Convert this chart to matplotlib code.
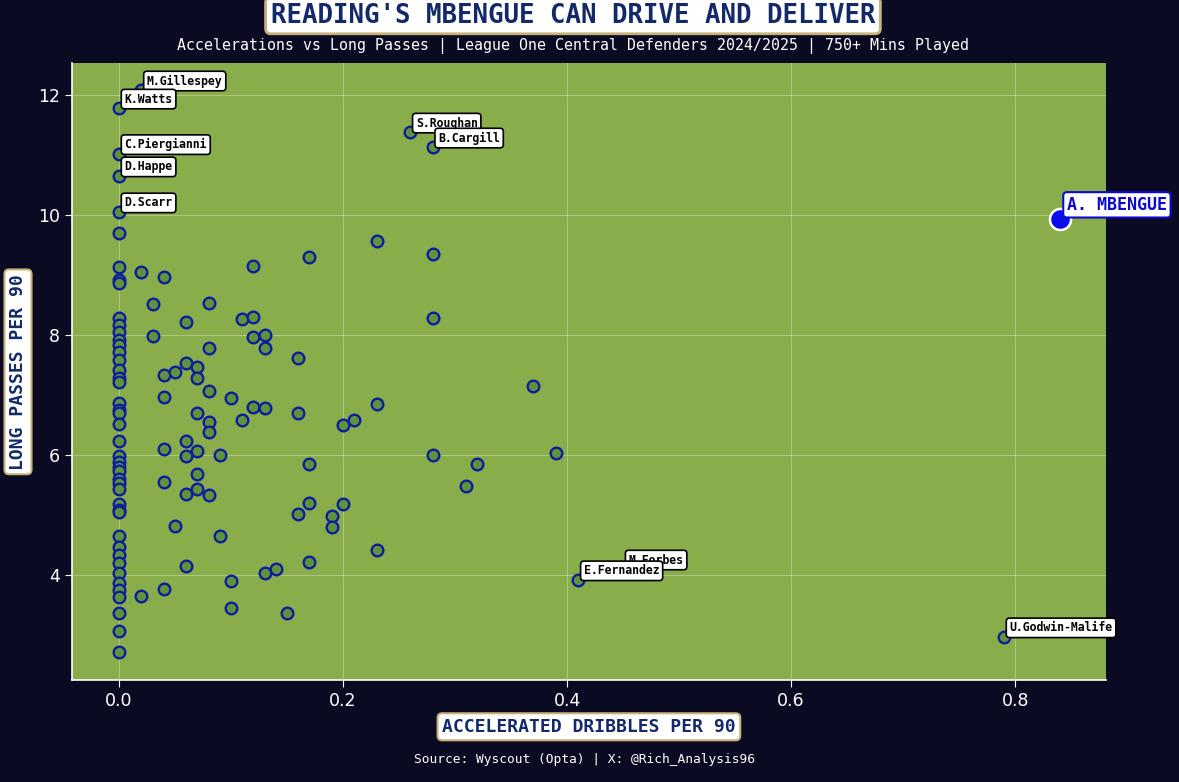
import matplotlib
matplotlib.use("Agg")
import matplotlib.pyplot as plt

# ---------------- data ----------------
zero_y = [9.71, 9.14, 8.92, 8.87, 8.29, 8.17, 8.06, 7.92, 7.83, 7.72, 7.58, 7.42,
          7.28, 7.22, 6.87, 6.75, 6.71, 6.52, 6.23, 5.99, 5.89, 5.80, 5.74, 5.61,
          5.53, 5.43, 5.19, 5.09, 5.05, 4.65, 4.47, 4.33, 4.20, 4.04, 3.88, 3.75,
          3.64, 3.37, 3.07, 2.72]

other_x = [0.02, 0.02,
           0.03, 0.03,
           0.04, 0.04, 0.04, 0.04, 0.04, 0.04,
           0.05, 0.05,
           0.06, 0.06, 0.06, 0.06, 0.06, 0.06,
           0.07, 0.07, 0.07, 0.07, 0.07, 0.07,
           0.08, 0.08, 0.08, 0.08, 0.08, 0.08,
           0.09, 0.09,
           0.10, 0.10, 0.10,
           0.11, 0.11,
           0.12, 0.12, 0.12, 0.12,
           0.13, 0.13, 0.13, 0.13,
           0.14, 0.15,
           0.16, 0.16, 0.16,
           0.17, 0.17, 0.17, 0.17,
           0.19, 0.19,
           0.20, 0.20,
           0.21,
           0.23, 0.23, 0.23,
           0.28, 0.28, 0.28,
           0.31, 0.32, 0.37, 0.39]
other_y = [9.05, 3.66,
           8.52, 7.99,
           8.97, 7.33, 6.97, 6.10, 5.56, 3.78,
           7.39, 4.82,
           8.22, 7.54, 6.23, 5.98, 5.35, 4.15,
           7.47, 7.29, 6.71, 6.07, 5.69, 5.43,
           8.54, 7.78, 7.07, 6.55, 6.38, 5.34,
           6.01, 4.65,
           6.95, 3.90, 3.46,
           8.27, 6.59,
           9.15, 8.31, 7.97, 6.81,
           8.00, 7.78, 6.78, 4.04,
           4.11, 3.38,
           7.62, 6.71, 5.02,
           9.30, 5.86, 5.20, 4.22,
           4.98, 4.81,
           6.51, 5.18,
           6.59,
           9.57, 6.85, 4.42,
           9.36, 8.28, 6.00,
           5.49, 5.85, 7.15, 6.03]

label_names = ["M.Gillespey", "K.Watts", "C.Piergianni", "D.Happe", "D.Scarr",
               "S.Roughan", "B.Cargill", "M.Forbes", "E.Fernandez", "U.Godwin-Malife"]
label_x = [0.02, 0.00, 0.00, 0.00, 0.00, 0.26, 0.28, 0.45, 0.41, 0.79]
label_y = [12.08, 11.78, 11.02, 10.65, 10.05, 11.38, 11.13, 4.10, 3.92, 2.97]

focus_name = "A. MBENGUE"
focus_x = 0.84
focus_y = 9.93

x_ticks = [0.0, 0.2, 0.4, 0.6, 0.8]
y_ticks = [4, 6, 8, 10, 12]

# ---------------- style ----------------
BG = "#0a0a22"
PITCH = "#89ad4a"
NAVY = "#13296a"
GOLD = "#c8b27a"
MONO = "DejaVu Sans Mono"

fig = plt.figure(figsize=(11.79, 7.82), dpi=100, facecolor=BG)
ax = fig.add_axes([0.061, 0.130, 0.877, 0.789])
ax.set_facecolor(PITCH)

all_x = [0.0] * len(zero_y) + other_x + label_x
all_y = zero_y + other_y + label_y
ax.scatter(all_x, all_y, s=70, facecolor="#62913b", edgecolor="#0b1f9e",
           linewidth=1.7, zorder=3)

ax.scatter([focus_x], [focus_y], s=230, facecolor="#0a0af0", edgecolor="white",
           linewidth=1.8, zorder=4)

for n, x, y in zip(label_names, label_x, label_y):
    ax.annotate(n, (x, y), xytext=(4, 2), textcoords="offset points",
                ha="left", va="bottom", fontsize=8.3, fontweight="bold",
                family=MONO, color="black", zorder=6,
                bbox=dict(boxstyle="round,pad=0.28", fc="white", ec="black", lw=1.2))

ax.annotate(focus_name, (focus_x, focus_y), xytext=(5, 4), textcoords="offset points",
            ha="left", va="bottom", fontsize=12, fontweight="bold",
            family=MONO, color="#0a0ad0", zorder=7, annotation_clip=False,
            bbox=dict(boxstyle="round,pad=0.22", fc="white", ec="#0a0ad0", lw=1.5))

ax.set_xlim(-0.042, 0.881)
ax.set_ylim(2.25, 12.53)
ax.set_xticks(x_ticks)
ax.set_yticks(y_ticks)
ax.grid(True, color="white", alpha=0.3, linewidth=0.8, zorder=0)
ax.set_axisbelow(True)
for s in ["top", "right"]:
    ax.spines[s].set_visible(False)
for s in ["left", "bottom"]:
    ax.spines[s].set_color("white")
    ax.spines[s].set_linewidth(1.2)
ax.tick_params(colors="white", labelsize=12.5, length=5)

ax.set_xlabel("ACCELERATED DRIBBLES PER 90", fontsize=13, fontweight="bold",
              family=MONO, color=NAVY, labelpad=5.5,
              bbox=dict(boxstyle="round,pad=0.25", fc="white", ec=GOLD, lw=1.5))
ax.set_ylabel("LONG PASSES PER 90", fontsize=13, fontweight="bold",
              family=MONO, color=NAVY, labelpad=8,
              bbox=dict(boxstyle="round,pad=0.25", fc="white", ec=GOLD, lw=1.5))

fig.text(0.486, 0.980, "READING'S MBENGUE CAN DRIVE AND DELIVER", ha="center",
         va="center", fontsize=18.5, fontweight="bold", family=MONO, color=NAVY,
         bbox=dict(boxstyle="round,pad=0.2", fc="white", ec=GOLD, lw=2))
fig.text(0.486, 0.941,
         "Accelerations vs Long Passes | League One Central Defenders 2024/2025 | 750+ Mins Played",
         ha="center", va="center", fontsize=10.7, family=MONO, color="white")
fig.text(0.496, 0.029, "Source: Wyscout (Opta) | X: @Rich_Analysis96", ha="center",
         va="center", fontsize=9.3, family=MONO, color="white")

fig.savefig("out.png", dpi=100, facecolor=BG)
